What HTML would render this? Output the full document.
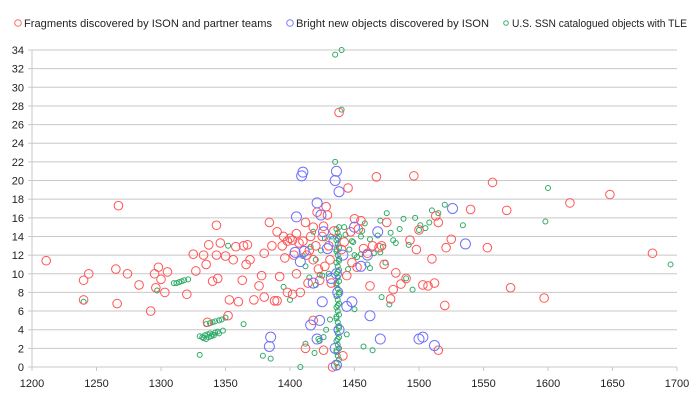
<!DOCTYPE html>
<html><head><meta charset="utf-8">
<style>
html,body{margin:0;padding:0;background:#fff;}
svg{display:block;font-family:"Liberation Sans",sans-serif;}
</style></head>
<body>
<svg id="chart" width="700" height="400" viewBox="0 0 700 400">
  <g id="grid"></g>
  <g id="axes"></g>
  <g id="series-green"></g>
  <g id="series-red"></g>
  <g id="series-blue"></g>
  <g id="legend">
    <g>
      <circle cx="18" cy="23" r="3.3" fill="none" stroke="#ff6b6b" stroke-width="1"/>
      <text x="24" y="27" font-size="11" fill="#222" textLength="248" lengthAdjust="spacingAndGlyphs">Fragments discovered by ISON and partner teams</text>
    </g>
    <g>
      <circle cx="290" cy="23" r="3.3" fill="none" stroke="#7b7bff" stroke-width="1"/>
      <text x="296" y="27" font-size="11" fill="#222" textLength="193" lengthAdjust="spacingAndGlyphs">Bright new objects discovered by ISON</text>
    </g>
    <g>
      <circle cx="506" cy="23" r="2.3" fill="none" stroke="#3cb371" stroke-width="1"/>
      <text x="512" y="27" font-size="11" fill="#222" textLength="175" lengthAdjust="spacingAndGlyphs">U.S. SSN catalogued objects with TLE</text>
    </g>
  </g>
</svg>
<script>
const xTicks = [1200,1250,1300,1350,1400,1450,1500,1550,1600,1650,1700];
const yTicks = [0,2,4,6,8,10,12,14,16,18,20,22,24,26,28,30,32,34];

const redX = [1211,1240,1244,1240,1265,1267,1266,1274,1283,1292,1295,1298,1296,1300,1303,1305,1320,1325,1327,1333,1335,1337,1340,1343,1343,1344,1346,1350,1353,1352,1356,1358,1360,1363,1364,1367,1366,1369,1372,1376,1378,1380,1380,1384,1386,1388,1390,1392,1394,1396,1398,1400,1402,1403,1405,1407,1410,1412,1413,1414,1416,1418,1420,1421,1423,1425,1427,1428,1430,1432,1438,1440,1442,1445,1447,1450,1452,1455,1457,1462,1464,1467,1469,1471,1473,1475,1478,1480,1482,1486,1490,1493,1496,1498,1500,1503,1507,1510,1512,1513,1515,1515,1520,1521,1525,1540,1553,1557,1568,1571,1597,1617,1648,1681,1412,1336,1441,1433,1426,1418,1408,1418,1390,1395,1398,1402,1426,1405,1431,1415,1422,1444,1448,1453,1460,1434,1429];
const redY = [11.4,9.3,10,7.2,10.5,17.3,6.8,10,8.8,6,10,10.7,8.5,9.4,8,10.2,7.8,12.1,10.3,12,11,13.1,9.2,15.2,12,9.5,13.3,11.9,7.2,5.5,11.5,12.9,7,9.3,13,13.1,11,11.5,7.2,8.7,9.8,7.5,12.2,15.5,13,7.1,7.1,9.7,13,11.7,8,13.8,7.8,12,10,13.3,13.5,15.5,12,9,14,15,13,16.6,9.3,14,10.8,17.2,13,9,27.3,12.6,13.4,19.2,14.5,15.9,10.7,15.7,12.7,8.7,13,20.4,12.8,13,11,15.5,7.3,8.3,10.1,8.9,9.5,13.6,20.5,12.6,14.7,8.8,8.7,11.6,9,16.2,1.8,15.5,6.6,12.8,13.7,16.9,12.8,19.8,16.8,8.5,7.4,17.6,18.5,12.2,2,4.8,1.2,0,1.8,5,8,11.5,14.5,14,13.5,13.6,15.1,14.3,11.5,12.5,10.5,9.8,11.2,14.8,12.2,14.6,16.3];

const blueX = [1409,1410,1436,1435,1438,1421,1424,1408,1411,1404,1418,1416,1423,1425,1421,1385,1384,1436,1435,1438,1437,1436,1434,1450,1455,1462,1470,1500,1503,1512,1526,1536,1405,1448,1441,1468,1429,1426,1432,1444,1460];
const blueY = [20.5,20.9,21,20,18.8,17.6,16.3,11.3,12.4,12.3,9,4.5,5,7,3,3.2,2.2,0.2,2,4,8,10,13.5,15,10.8,5.5,3,3,3.2,2.3,17,13.2,16.1,7,12,14.5,12.7,14.5,9.5,6.5,12];

const greenX = [1437,1436,1438,1437,1436,1438,1437,1436,1438,1437,1436,1438,1437,1436,1438,1437,1436,1438,1437,1436,1438,1437,1436,1438,1437,1436,1438,1437,1436,1438,1437,1436,1438,1437,1436,1438,1437,1436,1438,1437,1436,1438,1437,1436,1438,1437,1436,1438,1437,1436,
1330,1332,1334,1336,1338,1340,1342,1344,1348,1333,1335,1337,1339,1341,1345,1335,1338,1340,1342,1345,1347,1350,1310,1312,1314,1316,1318,1321,1364,1379,1385,1408,1412,1422,1426,1428,1435,1440,1442,1445,1450,1455,1460,1475,1485,1490,1495,1497,1501,1505,1510,1515,1520,1534,1598,1600,1695,1432,1435,1440,1352,1418,1420,1424,1427,1430,1443,1446,1449,1452,1456,1458,1462,1465,1468,1470,1472,1474,1478,1482,1488,1492,1500,1508,1415,1412,1410,1425,1448,1455,1462,1470,1480,1416,1419,1423,1431,1444,1450,1457,1464,1471,1477,1240,1297,1420,1423,1400,1330,1395];
const greenY = [0,0.4,0.8,1.2,1.6,2,2.4,2.8,3.2,3.6,4,4.4,4.8,5.2,5.6,6,6.4,6.8,7.2,7.6,8,8.4,8.8,9.2,9.6,10,10.4,10.8,11.2,11.6,12,12.4,12.8,13.2,13.6,14,14.4,14.8,15,13.8,12.6,11.4,10.2,9,7.8,6.6,5.4,4.2,3,1.8,
3.3,3.2,3.4,3.5,3.6,3.5,3.7,3.8,3.9,3.1,3,3.2,3.3,3.4,3.6,4.6,4.7,4.8,4.9,5,5.1,5.3,9,9,9.1,9.2,9.3,9.4,4.6,1.2,0.9,0,2.5,3,3.2,4,22,34,15,10.5,12,14,11,16.5,14.8,9.5,8.3,16,15.2,14.9,16.8,16.5,17.4,15.2,15.6,19.2,11,14,33.5,27.6,13,14.5,11.5,12.5,13.8,10,14.2,12.6,13.4,11.8,14.6,15.4,13.7,12.2,14.1,15.7,12.9,11.2,14.4,13.3,15.9,13.1,14.7,15.5,9.6,10.8,11.9,9.8,13.5,12.1,10.6,12.3,13.6,12.9,1.5,2.8,5.1,3.5,6.2,2.2,1.8,7.5,6.7,7,8.2,8.8,9.9,7.2,1.3,8.6];

const X0=32, X1=677, Y0=367, Y1=50;
function xs(v){return X0+(v-1200)/(1700-1200)*(X1-X0);}
function ys(v){return Y0-(v-0)/(34-0)*(Y0-Y1);}
const NS="http://www.w3.org/2000/svg";
const grid=document.getElementById('grid');
const axes=document.getElementById('axes');

yTicks.forEach(t=>{
  const l=document.createElementNS(NS,'line');
  
  
  l.setAttribute('x1',X0-4);l.setAttribute('x2',X1);
  l.setAttribute('y1',ys(t));l.setAttribute('y2',ys(t));
  l.setAttribute('stroke','#c8c8c8');l.setAttribute('stroke-width','1');
  grid.appendChild(l);
  const tx=document.createElementNS(NS,'text');
  
  
  tx.setAttribute('x',X0-8);tx.setAttribute('y',ys(t)+4);
  tx.setAttribute('text-anchor','end');tx.setAttribute('font-size','11');tx.setAttribute('fill','#222');
  tx.textContent=t;
  axes.appendChild(tx);
});
const ya=document.createElementNS(NS,'line');


ya.setAttribute('x1',X0);ya.setAttribute('x2',X0);ya.setAttribute('y1',Y1);ya.setAttribute('y2',Y0);
ya.setAttribute('stroke','#c8c8c8');
axes.appendChild(ya);
xTicks.forEach(t=>{
  const l=document.createElementNS(NS,'line');
  
  
  l.setAttribute('x1',xs(t));l.setAttribute('x2',xs(t));
  l.setAttribute('y1',Y0);l.setAttribute('y2',Y0+4);
  l.setAttribute('stroke','#c8c8c8');
  axes.appendChild(l);
  const tx=document.createElementNS(NS,'text');
  
  
  tx.setAttribute('x',xs(t));tx.setAttribute('y',Y0+20);
  tx.setAttribute('text-anchor','middle');tx.setAttribute('font-size','11');tx.setAttribute('fill','#222');
  tx.textContent=t;
  axes.appendChild(tx);
});

function draw(gid,X,Y,r,color,name){
  const g=document.getElementById(gid);
  for(let i=0;i<X.length;i++){
    const c=document.createElementNS(NS,'circle');
    
    
    c.setAttribute('cx',xs(X[i]));c.setAttribute('cy',ys(Y[i]));c.setAttribute('r',r);
    c.setAttribute('fill','none');c.setAttribute('stroke',color);c.setAttribute('stroke-width','1');
    g.appendChild(c);
  }
}
draw('series-green',greenX,greenY,2.5,'#2eaa66','ssn-point');
draw('series-red',redX,redY,4.3,'#ff5555','fragment-point');
draw('series-blue',blueX,blueY,5,'#7070ff','bright-object-point');
</script>
</body></html>
